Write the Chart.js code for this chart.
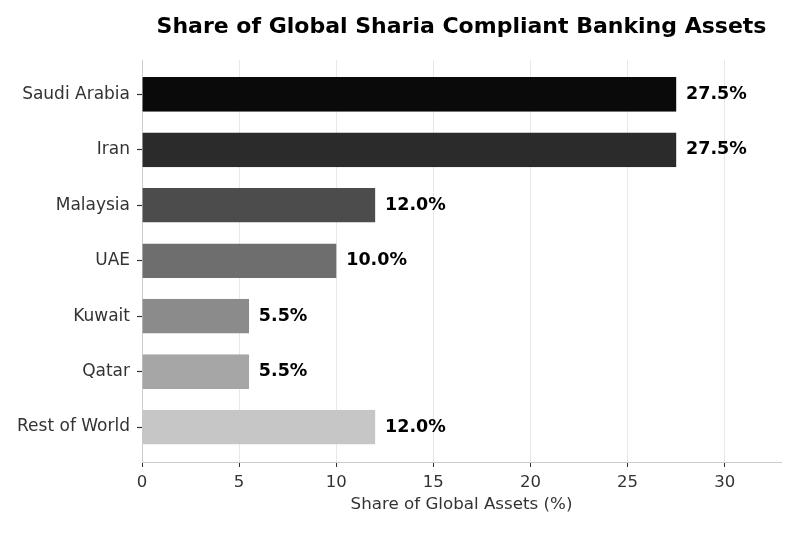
<!DOCTYPE html>
<html>
<head>
<meta charset="utf-8">
<script src="https://cdn.jsdelivr.net/npm/chart.js@4"></script>
<style>
  html, body { margin: 0; padding: 0; background: #fff; }
  #wrap { width: 800px; height: 533px; }
</style>
</head>
<body>
<div id="wrap"><canvas id="chart" width="800" height="533"></canvas></div>
<script>
  var categories = ['Saudi Arabia', 'Iran', 'Malaysia', 'UAE', 'Kuwait', 'Qatar', 'Rest of World'];
  var shares = [27.5, 27.5, 12.0, 10.0, 5.5, 5.5, 12.0];
  var barColors = ['#0a0a0a', '#2b2b2b', '#4c4c4c', '#6e6e6e', '#8b8b8b', '#a6a6a6', '#c6c6c6'];
  var xTicks = [0, 5, 10, 15, 20, 25, 30];

  var font = "'DejaVu Sans', sans-serif";

  var titlePlugin = {
    id: 'topTitle',
    afterDraw: function (chart) {
      var ctx = chart.ctx;
      var area = chart.chartArea;
      ctx.save();
      ctx.font = 'bold 22px ' + font;
      ctx.fillStyle = '#000';
      ctx.textAlign = 'center';
      ctx.textBaseline = 'middle';
      ctx.fillText('Share of Global Sharia Compliant Banking Assets', (area.left + area.right) / 2, 27);
      ctx.restore();
    }
  };

  var valueLabels = {
    id: 'valueLabels',
    afterDatasetsDraw: function (chart) {
      var ctx = chart.ctx;
      var meta = chart.getDatasetMeta(0);
      ctx.save();
      ctx.font = 'bold 17.5px ' + font;
      ctx.fillStyle = '#000';
      ctx.textAlign = 'left';
      ctx.textBaseline = 'middle';
      meta.data.forEach(function (bar, i) {
        ctx.fillText(shares[i].toFixed(1) + '%', bar.x + 10, bar.y);
      });
      ctx.restore();
    }
  };

  new Chart(document.getElementById('chart'), {
    type: 'bar',
    data: {
      datasets: [{
        data: shares.map(function (v, i) { return { x: v, y: i }; }),
        backgroundColor: barColors,
        borderColor: barColors,
        borderWidth: 1,
        barThickness: 34
      }]
    },
    options: {
      indexAxis: 'y',
      responsive: false,
      animation: false,
      devicePixelRatio: 1,
      layout: { padding: { top: 60, right: 19, left: 0, bottom: 0 } },
      plugins: {
        legend: { display: false },
        tooltip: { enabled: false }
      },
      scales: {
        x: {
          type: 'linear',
          min: 0,
          max: 32.9,
          afterBuildTicks: function (scale) {
            scale.ticks = xTicks.map(function (v) { return { value: v }; });
          },
          afterFit: function (scale) { scale.height = 71; },
          grid: { color: '#e8e8e8', tickColor: '#333', tickLength: 5, lineWidth: 1 },
          border: { color: '#cccccc', width: 1 },
          ticks: { color: '#333', font: { family: font, size: 16.5 }, padding: 6 },
          title: {
            display: true,
            text: 'Share of Global Assets (%)',
            color: '#333',
            font: { family: font, size: 16.7 },
            padding: { top: 2, bottom: 18 }
          }
        },
        y: {
          type: 'linear',
          reverse: true,
          offset: false,
          min: -0.62,
          max: 6.63,
          afterBuildTicks: function (scale) {
            scale.ticks = categories.map(function (c, i) { return { value: i }; });
          },
          afterFit: function (scale) { scale.width = 142; },
          grid: { offset: false, drawOnChartArea: false, tickColor: '#333', tickLength: 5, tickWidth: 1.2 },
          border: { color: '#cccccc', width: 1 },
          ticks: {
            color: '#333',
            font: { family: font, size: 17 },
            padding: 7,
            callback: function (value) { return categories[value]; }
          }
        }
      }
    },
    plugins: [titlePlugin, valueLabels]
  });
</script>
</body>
</html>
